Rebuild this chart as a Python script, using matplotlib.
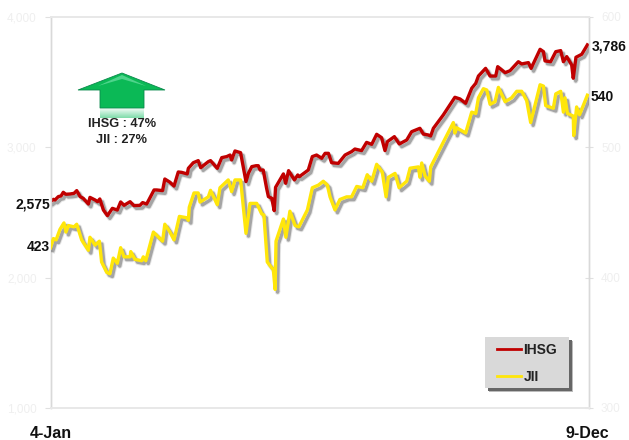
"""IHSG vs JII index lines on two y axes, saved to out.png."""

import matplotlib
matplotlib.use("Agg")
import matplotlib.pyplot as plt
import matplotlib.patheffects as pe
from matplotlib.colors import LinearSegmentedColormap
from matplotlib.lines import Line2D
from matplotlib.patches import Polygon, Rectangle
import numpy as np

plt.rcParams["font.family"] = ["Liberation Sans", "DejaVu Sans"]

# trading day number since 4-Jan
IHSG_DAYS = [0, 1.3, 2, 3.5, 4.7, 5.7, 6.8, 8.7, 10.5, 11.7, 13.2, 14.6, 16.9, 17.6, 19.9, 21, 22, 23.6, 25.4, 27.6,
             29.8, 31.3, 32.8, 35.5, 37.2, 39.9, 41.1, 42.9, 46.2, 47.4, 50, 51, 53.3, 55.1, 57, 58.5, 61, 61.5, 63.7, 65.9,
             67, 70.4, 71.4, 74.4, 76.4, 78.6, 80.1, 80.8, 82.3, 84.8, 87.2, 88.3, 89.8, 91.7, 92.7, 93.5, 94.9, 96.4, 97.2, 98.7,
             99.8, 100.4, 103.9, 104.9, 106.2, 108.8, 110.3, 111, 115, 116.8, 118.7, 121, 122.5, 124, 125.4, 128.4, 131.4, 134.3, 135.8, 138.8,
             141, 143.3, 145.5, 147.7, 149.2, 150.3, 153.4, 155.6, 158.9, 161.1, 164.8, 166.3, 168.5, 169.6, 170.8, 175.2, 180.4, 182.7, 185.2, 187.9,
             189.7, 190.9, 194.1, 196.1, 198.6, 199.5, 202.8, 205, 208.7, 210.2, 213.2, 214.4, 218.4, 219.9, 220.6, 223.1, 225.4, 227.6, 228.8, 230.3,
             232.5, 233.2, 234.4, 237, 239.5]
IHSG_VALUES = [2583, 2601, 2596, 2622, 2627, 2655, 2640, 2642, 2647, 2668, 2622, 2609, 2565, 2616, 2596, 2583, 2604, 2519, 2476, 2532,
               2519, 2581, 2555, 2583, 2553, 2555, 2576, 2565, 2673, 2673, 2668, 2757, 2732, 2703, 2811, 2808, 2796, 2839, 2882, 2898,
               2844, 2890, 2898, 2839, 2921, 2929, 2941, 2903, 2972, 2959, 2737, 2801, 2852, 2859, 2859, 2826, 2826, 2686, 2622, 2609,
               2514, 2693, 2796, 2724, 2821, 2750, 2788, 2775, 2826, 2929, 2941, 2916, 2954, 2954, 2882, 2877, 2941, 2967, 2987, 2975,
               3038, 3023, 3100, 3074, 2975, 3044, 3082, 3026, 3056, 3120, 3146, 3102, 3095, 3087, 3146, 3248, 3384, 3371, 3338, 3453,
               3491, 3547, 3606, 3547, 3547, 3619, 3573, 3588, 3657, 3640, 3650, 3606, 3752, 3734, 3663, 3657, 3734, 3742, 3657, 3696,
               3632, 3530, 3691, 3714, 3786]

JII_DAYS = [0, 1.3, 2.5, 4.2, 6, 6.9, 8, 10.5, 11.7, 13.9, 16.9, 17.6, 19.9, 21.8, 22.8, 25.1, 26.5, 28, 29.8, 31.3,
            32.8, 35.5, 35.8, 37.7, 40.7, 41.4, 42.5, 45.9, 50, 51, 53.3, 55.1, 57.5, 60.7, 61.5, 61.9, 64, 65.9, 66.7, 70.4,
            71.4, 74.4, 75.6, 79.3, 80.8, 82.3, 84.8, 87.2, 89, 92, 94.2, 95.2, 96.7, 99.4, 100.2, 100.6, 103.9, 105, 106.8, 109.1,
            110.8, 114.6, 116.8, 119.5, 121.7, 123.5, 124.7, 126.9, 129.1, 132.1, 134.3, 136.6, 139.3, 141.3, 143.3, 145.5, 148, 149.7, 150.7, 153.7,
            155.5, 158.9, 160.4, 164.1, 164.8, 165.6, 167.1, 169, 169.6, 179.7, 180.4, 181.2, 185.2, 187.9, 189.7, 190.9, 193.1, 194.6, 196.1, 198.3,
            199.8, 202.8, 205.7, 208, 210.2, 212.4, 214.2, 218.4, 219.9, 220.9, 224.3, 225.4, 227.6, 228.8, 229.5, 230.6, 233.2, 233.4, 234.7, 236,
            239.5]
JII_VALUES = [423, 430, 429, 437, 442, 435, 440, 439, 441, 429, 421, 431, 425, 428, 412, 404, 403, 415, 411, 423,
              416, 416, 420, 414, 413, 416, 413, 435, 428, 441, 435, 429, 447, 446, 444, 454, 465, 465, 458, 462,
              467, 456, 469, 475, 466, 475, 475, 434, 457, 457, 449, 448, 412, 406, 391, 428, 445, 431, 451, 440,
              439, 452, 469, 471, 474, 471, 462, 452, 460, 462, 462, 470, 469, 479, 474, 487, 481, 462, 477, 480,
              469, 474, 484, 485, 477, 488, 478, 474, 485, 519, 511, 515, 511, 527, 526, 538, 545, 544, 533, 535,
              546, 535, 538, 543, 543, 536, 519, 548, 547, 532, 530, 541, 543, 527, 538, 526, 524, 509, 531, 525,
              540]

LEFT_TICKS = [1000, 2000, 3000, 4000]
RIGHT_TICKS = [300, 400, 500, 600]
X_TICKS = [0, 239.5]
X_LABELS = ["4-Jan", "9-Dec"]
RED = "#c00000"
YELLOW = "#ffe60a"
FAINT = "#efefef"
INK = "#111111"


def line_shadow():
    """Soft grey drop shadow under the index lines."""
    return [
        pe.SimpleLineShadow(offset=(1.8, -2.0), shadow_color="#000000", alpha=0.1, linewidth=3.8),
        pe.SimpleLineShadow(offset=(1.8, -2.0), shadow_color="#000000", alpha=0.28, linewidth=2.4),
        pe.Normal(),
    ]


def style_axis(axis):
    for side in ["top", "bottom"]:
        axis.spines[side].set_color("#e8e8e8")
        axis.spines[side].set_linewidth(1.4)
    for side in ["left", "right"]:
        axis.spines[side].set_color("#d9d9d9")
        axis.spines[side].set_linewidth(1.0)


fig = plt.figure(figsize=(6.29, 4.40), dpi=100)
ax = fig.add_axes([50.5 / 629, 1 - 408 / 440, 538 / 629, 391 / 440])
ax2 = ax.twinx()

ax.plot(IHSG_DAYS, IHSG_VALUES, color=RED, linewidth=2.4, solid_joinstyle="round",
        path_effects=line_shadow(), zorder=3)
ax2.plot(JII_DAYS, JII_VALUES, color=YELLOW, linewidth=2.4, solid_joinstyle="round",
         path_effects=line_shadow(), zorder=3)

ax.set_xlim(0, 240)
ax.set_ylim(1000, 4000)
ax2.set_ylim(300, 600)
ax.set_yticks(LEFT_TICKS)
ax.set_yticklabels([f"{v:,}" for v in LEFT_TICKS], fontsize=8.5, color=FAINT)
ax2.set_yticks(RIGHT_TICKS)
ax2.set_yticklabels([str(v) for v in RIGHT_TICKS], fontsize=8.5, color=FAINT)
ax.tick_params(axis="y", length=4, color="#e0e0e0", pad=6)
ax2.tick_params(axis="y", direction="inout", length=6, color="#e0e0e0", pad=6)
ax.set_xticks(X_TICKS)
ax.set_xticklabels(X_LABELS, fontsize=11.5, fontweight="bold", color=INK)
ax.tick_params(axis="x", length=0, pad=13)
style_axis(ax)
style_axis(ax2)

# first and last values next to the lines
ax.annotate("2,575", (0, IHSG_VALUES[0]), xytext=(-0.5, -2), textcoords="offset points",
            ha="right", va="center", fontsize=10, fontweight="bold", color=INK, annotation_clip=False)
ax2.annotate("423", (0, JII_VALUES[0]), xytext=(-0.5, 0.5), textcoords="offset points",
             ha="right", va="center", fontsize=10, fontweight="bold", color=INK, annotation_clip=False)
ax.annotate("3,786", (239.5, IHSG_VALUES[-1]), xytext=(3, -1), textcoords="offset points",
            ha="left", va="center", fontsize=10, fontweight="bold", color=INK, annotation_clip=False)
ax2.annotate("540", (239.5, JII_VALUES[-1]), xytext=(2.5, -1.5), textcoords="offset points",
             ha="left", va="center", fontsize=10, fontweight="bold", color=INK, annotation_clip=False)

# pixel-sized overlay for the arrow and the legend box
over = fig.add_axes([0, 0, 1, 1], facecolor="none")
over.axis("off")

fade = np.linspace(0, 1, 32).reshape(-1, 1)
over.imshow(fade, extent=(100, 144, 118, 107), cmap=LinearSegmentedColormap.from_list("fade", ["#ffffff", "#7fdcaa"]),
            aspect="auto", zorder=1)
over.add_patch(Polygon([(122, 73), (165, 90), (144, 90), (144, 108), (100, 108), (100, 90), (78, 90)],
                       closed=True, facecolor="#0bb956", edgecolor="#0a8a4c", linewidth=0.6, zorder=2))
over.add_patch(Polygon([(122, 75), (146, 86), (122, 79), (98, 86)], closed=True, facecolor="#4fd48c",
                       edgecolor="none", zorder=3))
over.set_xlim(0, 629)
over.set_ylim(440, 0)
over.text(122, 124, "IHSG : 47%", ha="center", va="center", fontsize=9.2, fontweight="bold", color="#222222")
over.text(122, 140, "JII : 27%", ha="center", va="center", fontsize=9.2, fontweight="bold", color="#222222")

# legend box with hard drop shadow, handles drawn without shadow
over.add_patch(Rectangle((489, 341), 84, 51, facecolor="#bbbbbb", edgecolor="none", zorder=3))
over.add_patch(Rectangle((488, 340), 84, 51, facecolor="#666666", edgecolor="none", zorder=3))
over.add_patch(Rectangle((485, 337), 84, 51, facecolor="#d9d9d9", edgecolor="none", zorder=4))
handles = [Line2D([0], [0], color=RED, linewidth=2), Line2D([0], [0], color=YELLOW, linewidth=2)]
leg = over.legend(handles, ["IHSG", "JII"], loc="upper left", bbox_to_anchor=(497 / 629, 1 - 343 / 440),
                  bbox_transform=fig.transFigure, fontsize=10, handlelength=1.75, handletextpad=0.15, labelspacing=0.9,
                  borderpad=0, borderaxespad=0, frameon=False)
leg.set_zorder(5)
for t in leg.get_texts():
    t.set_fontweight("bold")
    t.set_color("#222222")

fig.savefig("out.png", dpi=100)
plt.close(fig)
